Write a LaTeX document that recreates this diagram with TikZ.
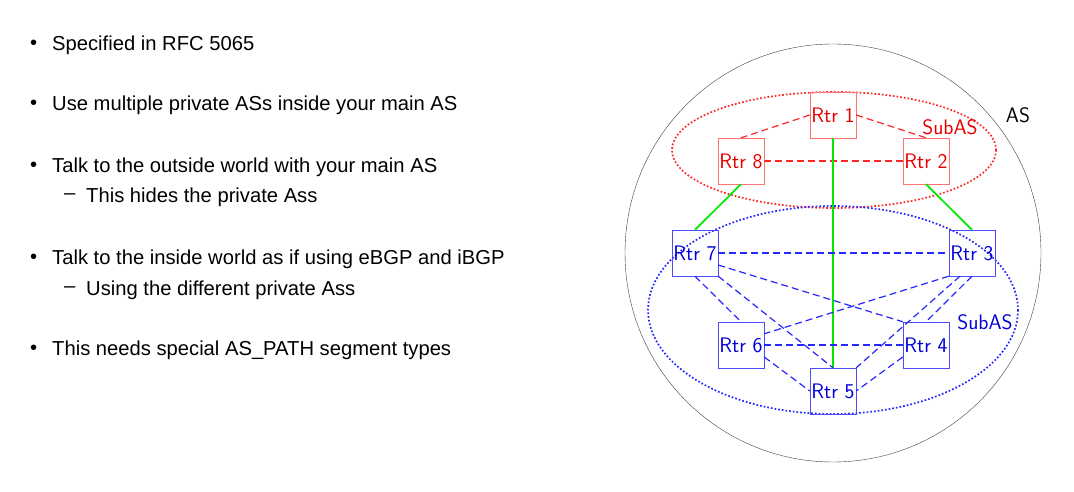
\documentclass[tikz,border=0pt]{standalone}
\usepackage{fontspec}
\newfontfamily\bul[Ligatures=TeX]{Liberation Sans}
\begin{document}
\begin{tikzpicture}[x=1pt,y=-1pt,
 txt/.style={anchor=west,font=\bul\fontsize{20.2}{22}\selectfont,inner sep=0},
 lab/.style={font=\sffamily\fontsize{21}{24}\selectfont,inner sep=0},
 rr/.style={lab,draw=red!55,text=red!90!black,minimum width=46,minimum height=46},
 br/.style={lab,draw=blue!70,text=blue!85!black,minimum width=46,minimum height=46},
 rd/.style={draw=red!85,dash pattern=on 7pt off 4pt,line width=1.2pt},
 bd/.style={draw=blue!85,dash pattern=on 7pt off 4pt,line width=1.2pt},
 gr/.style={draw=green!85!black!60!green,line width=1.7pt}]
\useasboundingbox (0,0) rectangle (1074,492);
\foreach \y/\t [count=\i] in {45/Specified in RFC 5065,105/Use multiple private ASs inside your main AS,167/Talk to the outside world with your main AS,259/Talk to the inside world as if using eBGP and iBGP,350/This needs special AS\_PATH segment types}
 {\node[txt] (b\i) at (30,\y) {\textbullet}; \node[txt] (t\i) at (52,\y) {\t};}
\node[txt] (d1) at (64,197) {\textendash}; \node[txt] (s1) at (86,197) {This hides the private Ass};
\node[txt] (d2) at (64,290) {\textendash}; \node[txt] (s2) at (86,290) {Using the different private Ass};
\draw[black!75] (833,253) ellipse [x radius=208,y radius=209];
\draw[red!85,dotted,line width=1.7pt] (834,150) ellipse [x radius=162,y radius=58];
\draw[blue!85,dotted,line width=1.7pt] (833,310) ellipse [x radius=185,y radius=104];
\node[lab] (as) at (1018,115) {AS};
\node[lab,text=red!90!black] (sa1) at (950,127) {SubAS};
\node[lab,text=blue!85!black] (sa2) at (985,322) {SubAS};
\node[rr] (r1) at (833,115) {Rtr 1};
\node[rr] (r8) at (741,161) {Rtr 8};
\node[rr] (r2) at (926,161) {Rtr 2};
\node[br] (r7) at (695,253) {Rtr 7};
\node[br] (r3) at (972,253) {Rtr 3};
\node[br] (r6) at (741,345) {Rtr 6};
\node[br] (r4) at (926,345) {Rtr 4};
\node[br] (r5) at (833,391) {Rtr 5};
\draw[rd] (r1.west) -- (r8.north);
\draw[rd] (r1.east) -- (r2.north);
\draw[rd] (r8) -- (r2);
\draw[gr] (r1) -- (r5);
\draw[gr] (r8.south) -- (r7.north);
\draw[gr] (r2.south) -- (r3.north);
\draw[bd] (r7) -- (r3);
\draw[bd] (r7.south) -- (r6.north);
\draw[bd] (r7.south east) -- (r5.north);
\draw[bd] ([yshift=-12]r7.east) -- (r4.north west);
\draw[bd] (r3.south west) -- ([yshift=-12]r6.north east);
\draw[bd] (r3.south) -- (r4.north);
\draw[bd] ([xshift=-12]r3.south) -- (r5.north east);
\draw[bd] (r6) -- (r4);
\draw[bd] ([yshift=-12]r6.east) -- (r5.west);
\draw[bd] ([yshift=-12]r4.west) -- (r5.east);
\end{tikzpicture}
\end{document}
